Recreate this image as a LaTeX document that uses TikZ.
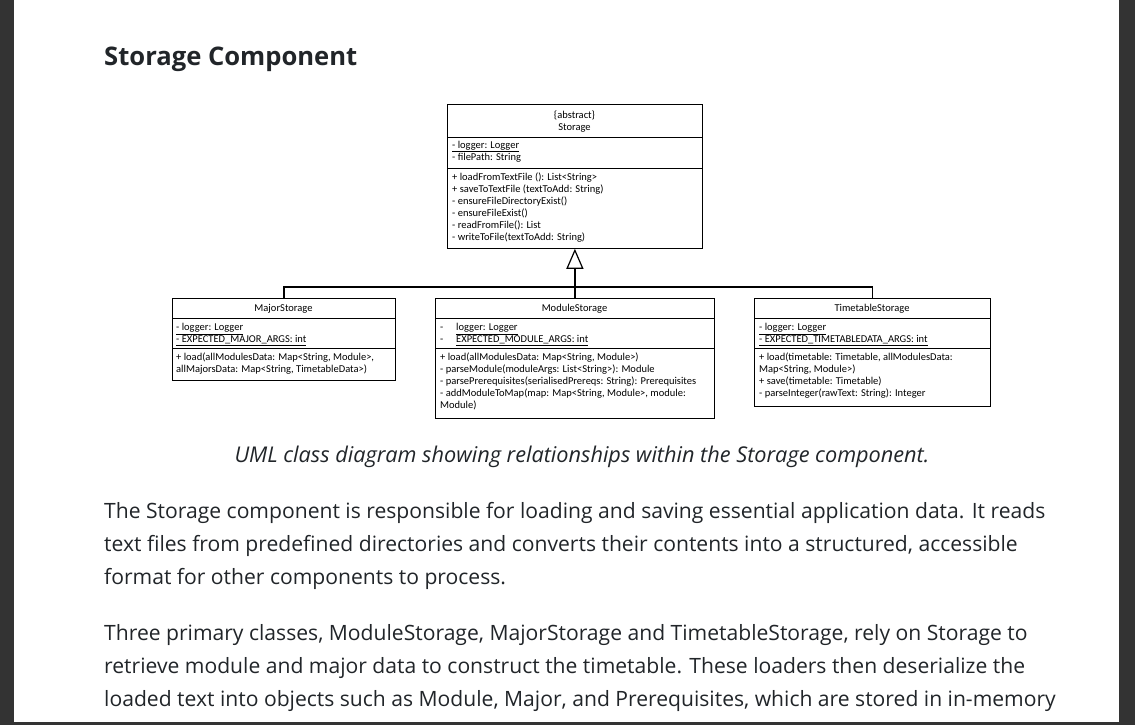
\documentclass[tikz,border=0pt]{standalone}
\usepackage{fontspec}
\setmainfont{Open Sans}
\newfontfamily\umlfont{Carlito}
\usetikzlibrary{arrows.meta}
\definecolor{pagetext}{HTML}{212529}
\definecolor{frame}{HTML}{333333}

\begin{document}
\begin{tikzpicture}[x=1pt,y=-1pt]

  \tikzstyle{classbox}=[draw,anchor=north west,inner sep=0pt,line width=0.8pt]
  \tikzstyle{title}=[font=\umlfont\fontsize{10.5}{11}\selectfont,inner sep=0pt,anchor=mid,yshift=-1pt]
  \tikzstyle{member}=[font=\umlfont\fontsize{10.5}{11}\selectfont,inner sep=0pt,anchor=mid west,yshift=-1pt]
  \tikzstyle{divider}=[line width=0.8pt]
  \tikzstyle{link}=[line width=1.2pt]
  \tikzstyle{inherit}=[link,-{Triangle[open,length=20pt,width=17pt,line width=1.2pt]}]
  \tikzstyle{body}=[font=\fontsize{21.1}{33}\selectfont,text=pagetext,inner sep=0pt,anchor=base west]

  % page
  \fill[frame] (0,0) rectangle (1135,725);
  \fill[white] (14,0) rectangle (1119,722);
  \useasboundingbox (0,0) rectangle (1135,725);

  \node[body,font=\bfseries\fontsize{25.6}{30}\selectfont] (heading) at (104,66) {Storage Component};

  % Storage
  \node[classbox,minimum width=255pt,minimum height=144pt] (storage) at (447,104) {};
  \draw[divider] (storage.west |- 0,137) -- (storage.east |- 0,137);
  \draw[divider] (storage.west |- 0,168) -- (storage.east |- 0,168);
  \node[title] (storage-s) at (574.5,115) {\{abstract\}};
  \node[title] (storage-t) at (574.5,126.5) {Storage};
  \node[member] (st-a1) at (452,144.5) {\underline{- logger: Logger}};
  \node[member] (st-a2) at (452,157) {- filePath: String};
  \foreach \t [count=\i] in {{+ loadFromTextFile (): List<String>},
                             {+ saveToTextFile (textToAdd: String)},
                             {- ensureFileDirectoryExist()},
                             {- ensureFileExist()},
                             {- readFromFile(): List},
                             {- writeToFile(textToAdd: String)}}
    \node[member] (st-m\i) at (452,{165+12*\i}) {\t};

  % MajorStorage
  \node[classbox,minimum width=223pt,minimum height=82pt] (major) at (172,298) {};
  \draw[divider] (major.west |- 0,318) -- (major.east |- 0,318);
  \draw[divider] (major.west |- 0,348) -- (major.east |- 0,348);
  \node[title] (major-t) at (283.5,308) {MajorStorage};
  \node[member] (ma-a1) at (176,327) {\underline{- logger: Logger}};
  \node[member] (ma-a2) at (176,339) {\underline{- EXPECTED\_MAJOR\_ARGS: int}};
  \foreach \t [count=\i] in {{+ load(allModulesData: Map<String, Module>,},
                             {allMajorsData: Map<String, TimetableData>)}}
    \node[member] (ma-m\i) at (176,{345+12*\i}) {\t};

  % ModuleStorage
  \node[classbox,minimum width=279pt,minimum height=120pt] (module) at (435,298) {};
  \draw[divider] (module.west |- 0,318) -- (module.east |- 0,318);
  \draw[divider] (module.west |- 0,348) -- (module.east |- 0,348);
  \node[title] (module-t) at (574.5,308) {ModuleStorage};
  \node[member] (mo-a1) at (440,327) {\makebox[16pt][l]{-}\underline{logger: Logger}};
  \node[member] (mo-a2) at (440,339) {\makebox[16pt][l]{-}\underline{EXPECTED\_MODULE\_ARGS: int}};
  \foreach \t [count=\i] in {{+ load(allModulesData: Map<String, Module>)},
                             {- parseModule(moduleArgs: List<String>): Module},
                             {- parsePrerequisites(serialisedPrereqs: String): Prerequisites},
                             {- addModuleToMap(map: Map<String, Module>, module:},
                             {Module)}}
    \node[member] (mo-m\i) at (440,{345+12*\i}) {\t};

  % TimetableStorage
  \node[classbox,minimum width=236pt,minimum height=108pt] (timetable) at (754,298) {};
  \draw[divider] (timetable.west |- 0,318) -- (timetable.east |- 0,318);
  \draw[divider] (timetable.west |- 0,348) -- (timetable.east |- 0,348);
  \node[title] (timetable-t) at (872,308) {TimetableStorage};
  \node[member] (ti-a1) at (759,327) {\underline{- logger: Logger}};
  \node[member] (ti-a2) at (759,339) {\underline{- EXPECTED\_TIMETABLEDATA\_ARGS: int}};
  \foreach \t [count=\i] in {{+ load(timetable: Timetable, allModulesData:},
                             {Map<String, Module>)},
                             {+ save(timetable: Timetable)},
                             {- parseInteger(rawText: String): Integer}}
    \node[member] (ti-m\i) at (759,{345+12*\i}) {\t};

  % generalisation
  \coordinate (join) at (574.5,287);
  \draw[inherit] (module.north) -- (storage.south);
  \draw[link] (major.north) |- (join) -| (timetable.north);

  \node[body,anchor=base,font=\itshape\fontsize{21.7}{33}\selectfont] (caption) at (582,462)
    {UML class diagram showing relationships within the Storage component.};

  \foreach \t [count=\i] in {{The Storage component is responsible for loading and saving essential application data. It reads},
                             {text files from predefined directories and converts their contents into a structured, accessible},
                             {format for other components to process.}}
    \node[body] (para-a\i) at (104,{485+33*\i}) {\t};

  \foreach \t [count=\i] in {{Three primary classes, ModuleStorage, MajorStorage and TimetableStorage, rely on Storage to},
                             {retrieve module and major data to construct the timetable. These loaders then deserialize the},
                             {loaded text into objects such as Module, Major, and Prerequisites, which are stored in in-memory}}
    \node[body] (para-b\i) at (104,{607+33*\i}) {\t};
\end{tikzpicture}
\end{document}
